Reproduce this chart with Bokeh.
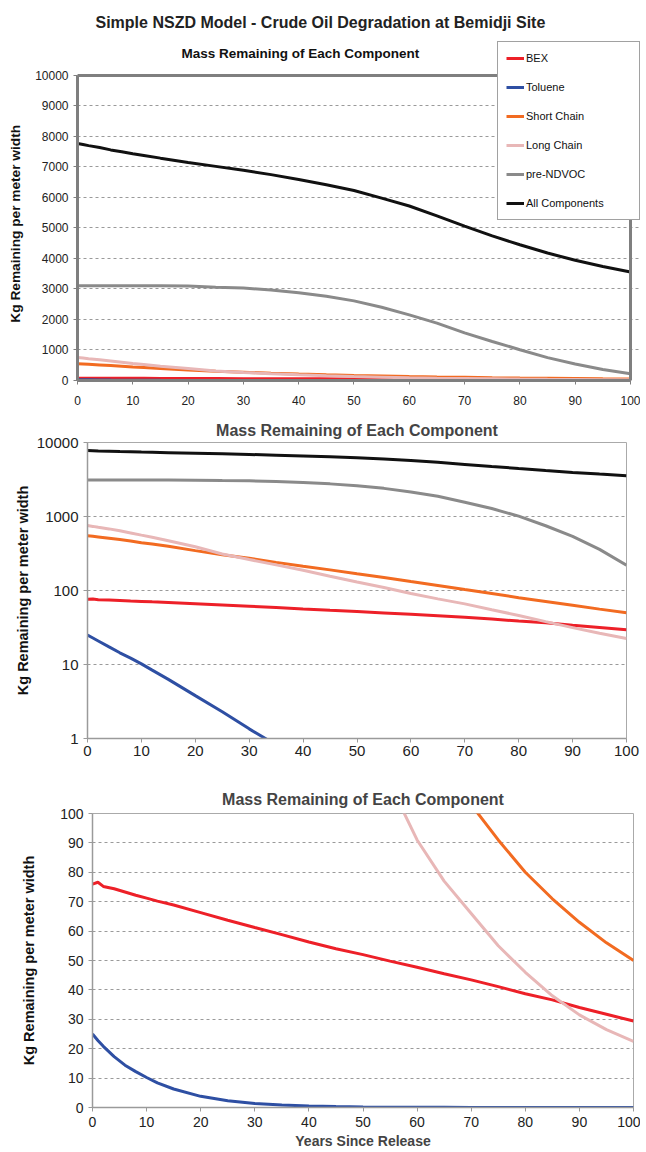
from bokeh.plotting import figure
from bokeh.models import (Range1d, FixedTicker, NumeralTickFormatter, Title, Legend,
                          LegendItem, BoxAnnotation, Label)
from bokeh.embed import file_html
from bokeh.resources import INLINE

# ---------------- data ----------------
years = [0, 1, 2, 4, 6, 8, 10, 12, 15, 20, 25, 30, 35, 40, 45, 50,
         55, 60, 65, 70, 75, 80, 85, 90, 95, 100]
bex = [76.0, 76.6, 75.2, 74.4, 73.3, 72.2, 71.2, 70.2, 68.9, 66.3, 63.7, 61.2, 58.8,
       56.3, 54.0, 52.0, 49.8, 47.7, 45.5, 43.4, 41.1, 38.7, 36.6, 34.0, 31.7, 29.4]
toluene = [25.0, 22.8, 20.8, 17.3, 14.4, 12.2, 10.2, 8.4, 6.3, 3.8, 2.3, 1.35, 0.82,
           0.5, 0.3, 0.19, 0.12, 0.07, 0.045, 0.028, 0.017, 0.01, 0.006, 0.004, 0.0025, 0.0015]
short_chain = [550, 540, 530, 510, 490, 468, 442, 425, 395, 346, 305, 272, 240,
               213, 190, 168, 150, 132, 117, 103, 91, 80, 71, 63, 56, 50]
long_chain = [755, 735, 715, 680, 640, 600, 560, 525, 470, 390, 312, 262, 222,
              188, 156, 130, 110, 91, 77, 66, 55, 46, 38, 31.5, 26.5, 22.5]
pre_ndvoc = [3110, 3110, 3110, 3110, 3110, 3110, 3110, 3108, 3105, 3100, 3060, 3030, 2970,
             2880, 2760, 2610, 2400, 2150, 1880, 1560, 1280, 1010, 750, 540, 360, 220]
all_components = [7770, 7740, 7700, 7640, 7560, 7500, 7435, 7380, 7290, 7150, 7020, 6890, 6750,
                  6590, 6420, 6230, 5980, 5720, 5400, 5060, 4740, 4450, 4180, 3940, 3740, 3560]

series_names = ["BEX", "Toluene", "Short Chain", "Long Chain", "pre-NDVOC", "All Components"]
series_values = [bex, toluene, short_chain, long_chain, pre_ndvoc, all_components]
series_colors = ["#ED2028", "#2E4FA3", "#F26B21", "#E8B7B7", "#8A8A8A", "#111111"]

x_ticks = list(range(0, 101, 10))
y1_ticks = list(range(0, 10001, 1000))
y2_ticks = [1, 10, 100, 1000, 10000]
y3_ticks = list(range(0, 101, 10))

main_title = "Simple NSZD Model - Crude Oil Degradation at Bemidji Site"
sub_title = "Mass Remaining of Each Component"
y_label = "Kg Remaining per meter width"
x_label = "Years Since Release"

BOLD_FONT = "Liberation Sans, Arial, sans-serif"
TICK_FONT = "Liberation Sans, Arial, sans-serif"


def style_axes(p, axis_color, axis_width, tick_size, label_size, label_standoff,
               x_standoff=5, label_text=y_label):
    for ax in (p.xaxis, p.yaxis):
        ax.axis_line_color = axis_color
        ax.axis_line_width = axis_width
        ax.major_tick_line_color = axis_color
        ax.major_tick_line_width = 1
        ax.major_tick_out = 4
        ax.major_tick_in = 0
        ax.minor_tick_line_color = None
        ax.major_label_text_font = TICK_FONT
        ax.major_label_text_font_size = tick_size
        ax.major_label_text_color = "#222222"
        ax.major_label_standoff = 5
    p.xaxis.major_label_standoff = x_standoff
    p.yaxis.axis_label = label_text
    p.yaxis.axis_label_text_font = BOLD_FONT
    p.yaxis.axis_label_text_font_style = "bold"
    p.yaxis.axis_label_text_font_size = label_size
    p.yaxis.axis_label_text_color = "#111111"
    p.yaxis.axis_label_standoff = label_standoff
    p.xgrid.visible = False
    p.ygrid.grid_line_color = "#9a9a9a"
    p.ygrid.grid_line_dash = "3 3"
    p.ygrid.grid_line_width = 1
    p.background_fill_color = "white"
    p.border_fill_color = "white"


# ---------------- panel 1 : linear, with legend ----------------
# frame extends a little above / right of the boxed data area so that the
# legend (which overlaps the box in the reference) is not clipped
p1 = figure(width=640, height=412, x_range=Range1d(0, 101.81), y_range=Range1d(0, 11147),
            output_backend="svg", toolbar_location=None, title=None,
            min_border_left=77, min_border_right=0, min_border_top=40, min_border_bottom=32)
p1.xaxis.ticker = FixedTicker(ticks=x_ticks)
p1.yaxis.ticker = FixedTicker(ticks=y1_ticks)
p1.xaxis.bounds = (0, 100)
p1.yaxis.bounds = (0, 10000)
style_axes(p1, "#7f7f7f", 3, "12px", "13.7px", 9, x_standoff=11,
           label_text=y_label + "\u00a0" * 7)
p1.outline_line_color = None

items = []
for name, vals, col in zip(series_names, series_values, series_colors):
    r = p1.line(years, vals, line_color=col, line_width=3)
    items.append(LegendItem(label=name, renderers=[r]))

p1.add_layout(BoxAnnotation(left=0, right=100, bottom=0, top=10000, fill_alpha=0,
                            line_color="#7f7f7f", line_width=3, line_alpha=1.0))

legend = Legend(items=items, location=(420, 160), orientation="vertical",
                label_text_font=TICK_FONT, label_text_font_size="11px",
                label_text_color="#111111",
                glyph_width=18, glyph_height=16, label_height=16, label_width=105,
                label_standoff=2, spacing=13, padding=8, margin=0,
                border_line_color="#444444", border_line_width=1,
                background_fill_color="white", background_fill_alpha=1.0)
p1.add_layout(legend, "center")

p1.add_layout(Label(x=18.8, y=10720, text=sub_title, text_font=BOLD_FONT,
                    text_font_size="13.5px", text_font_style="bold",
                    text_align="left", text_baseline="middle", text_color="#111111"))
p1.add_layout(Title(text=main_title, align="left", offset=18, text_font=BOLD_FONT,
                    text_font_size="16px", text_font_style="bold", standoff=20,
                    text_color="#222222"), "above")

# ---------------- panel 2 : log scale ----------------
p2 = figure(width=640, height=363, x_range=Range1d(0, 100), y_range=Range1d(1, 10000),
            y_axis_type="log", output_backend="svg", toolbar_location=None,
            title=sub_title,
            min_border_left=87, min_border_right=14, min_border_top=30, min_border_bottom=37)
p2.xaxis.ticker = FixedTicker(ticks=x_ticks)
p2.yaxis.ticker = FixedTicker(ticks=y2_ticks)
p2.yaxis.formatter = NumeralTickFormatter(format="0")
style_axes(p2, "#9a9a9a", 1.5, "15px", "14.5px", 3, x_standoff=3)
p2.outline_line_color = "#aaaaaa"
p2.outline_line_width = 1
p2.title.align = "center"
p2.title.text_font = BOLD_FONT
p2.title.text_font_size = "16px"
p2.title.text_font_style = "bold"
p2.title.standoff = 8
for name, vals, col in zip(series_names, series_values, series_colors):
    p2.line(years, vals, line_color=col, line_width=3)

# ---------------- panel 3 : linear zoom 0-100 ----------------
p3 = figure(width=640, height=377, x_range=Range1d(0, 100), y_range=Range1d(0, 100),
            output_backend="svg", toolbar_location=None, title=sub_title,
            min_border_left=92, min_border_right=7, min_border_top=38, min_border_bottom=45)
p3.xaxis.ticker = FixedTicker(ticks=x_ticks)
p3.yaxis.ticker = FixedTicker(ticks=y3_ticks)
style_axes(p3, "#9a9a9a", 1.5, "14px", "14.5px", 20, x_standoff=5)
p3.xaxis.axis_label = x_label
p3.xaxis.axis_label_text_font = BOLD_FONT
p3.xaxis.axis_label_text_font_style = "bold"
p3.xaxis.axis_label_text_font_size = "14px"
p3.xaxis.axis_label_standoff = 3
p3.outline_line_color = "#aaaaaa"
p3.outline_line_width = 1
p3.title.align = "center"
p3.title.text_font = BOLD_FONT
p3.title.text_font_size = "16px"
p3.title.text_font_style = "bold"
p3.title.standoff = 11
for name, vals, col in zip(series_names, series_values, series_colors):
    p3.line(years, vals, line_color=col, line_width=3)

open("out.html", "w").write(file_html([p1, p2, p3], INLINE, title="Simple NSZD Model"))
